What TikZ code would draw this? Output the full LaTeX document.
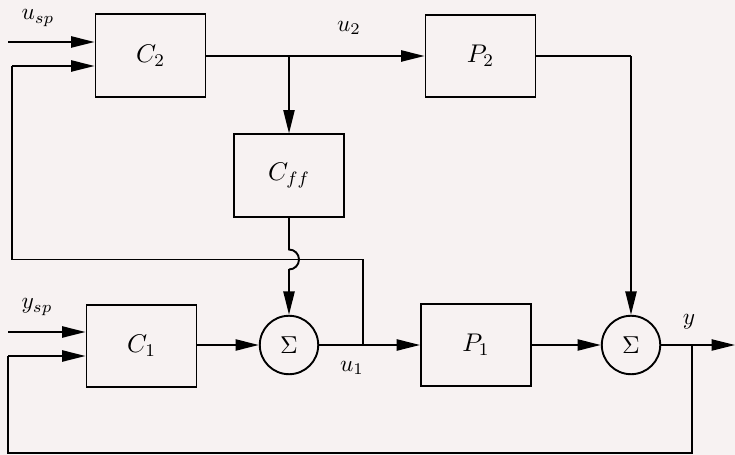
\RequirePackage{fix-cm}
\documentclass[tikz,border=0pt]{standalone}
\usetikzlibrary{arrows.meta}
\definecolor{bgc}{RGB}{247,242,242}
\begin{document}
\begin{tikzpicture}[x=0.45pt,y=-0.45pt,
  blk/.style={draw,line width=0.85pt,minimum width=49.5pt,minimum height=37pt,inner sep=0pt,font=\fontsize{11.5}{13}\selectfont},
  sumc/.style={draw,circle,line width=0.85pt,minimum size=26.3pt,inner sep=0pt,font=\fontsize{11}{13}\selectfont},
  conn/.style={line width=0.85pt},
  arr/.style={line width=0.85pt,-{Triangle[length=10.5pt,width=5pt]}},
  lbl/.style={inner sep=0pt,font=\fontsize{10.5}{12}\selectfont}]
\fill[bgc] (0,0) rectangle (735,455);
\useasboundingbox (0,0) rectangle (735,455);
% blocks
\node[blk] (C2) at (150.5,55.5) {$C_2$};
\node[blk] (P2) at (480.5,56) {$P_2$};
\node[blk] (Cff) at (289,175.5) {$C_{ff}$};
\node[blk] (C1) at (141.5,346) {$C_1$};
\node[blk] (P1) at (476,345) {$P_1$};
\node[sumc] (S1) at (289,345) {$\Sigma$};
\node[sumc] (S2) at (631,345) {$\Sigma$};
% coordinates
\coordinate (usp) at (8,42);
\coordinate (ysp) at (8,332);
\coordinate (b2) at (289,56);
\coordinate (bu1) at (363,345);
\coordinate (fbA) at (363,259.5);
\coordinate (fbB) at (12,259.5);
\coordinate (fbC) at (12,66);
\coordinate (hopT) at (289,249.5);
\coordinate (turn) at (631,56);
\coordinate (by) at (692,345);
\coordinate (yout) at (735,345);
\coordinate (botR) at (692,453);
\coordinate (botL) at (8,453);
\coordinate (fbD) at (8,356);
% labels
\node[lbl] (lusp) at (38,18) {$u_{sp}$};
\node[lbl] (lu2) at (349,28) {$u_2$};
\node[lbl] (lysp) at (37,307) {$y_{sp}$};
\node[lbl] (lu1) at (352,368) {$u_1$};
\node[lbl] (ly) at (689,322) {$y$};
% connectors
\draw[arr] (usp) -- (usp -| C2.west);
\draw[arr] (fbC) -- (fbC -| C2.west);
\draw[arr] (C2.east |- b2) -- (P2.west |- b2);
\draw[arr] (b2) -- (Cff.north);
\draw[conn] (Cff.south) -- (hopT) arc[start angle=90,end angle=-90,radius=4.5pt] coordinate (hopB);
\draw[arr] (hopB) -- (S1.north);
\draw[conn] (bu1) -- (fbA) -- (fbB) -- (fbC);
\draw[arr] (ysp) -- (ysp -| C1.west);
\draw[arr] (fbD) -- (fbD -| C1.west);
\draw[arr] (C1.east |- S1) -- (S1.west);
\draw[arr] (S1.east) -- (P1.west);
\draw[arr] (P1.east) -- (S2.west);
\draw[conn] (P2.east |- turn) -- (turn);
\draw[arr] (turn) -- (S2.north);
\draw[arr] (S2.east) -- (yout);
\draw[conn] (by) -- (botR) -- (botL) -- (fbD);
\end{tikzpicture}
\end{document}
